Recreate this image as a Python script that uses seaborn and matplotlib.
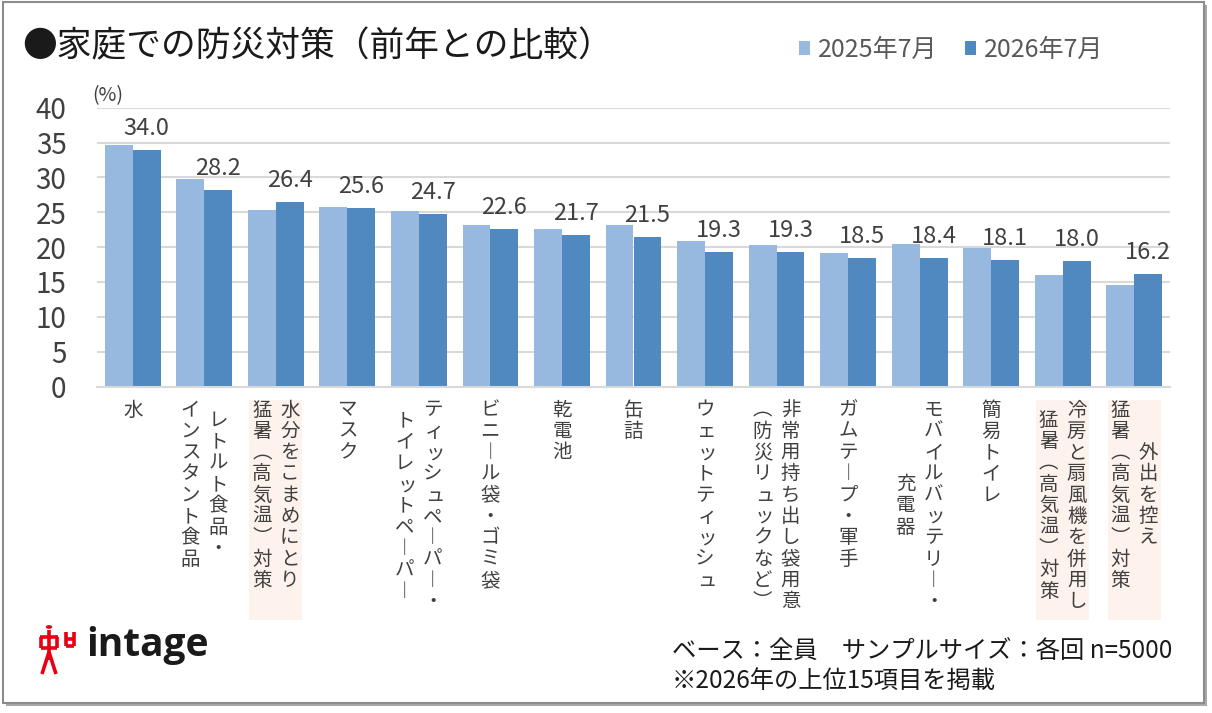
import numpy as np
import pandas as pd
import matplotlib
matplotlib.use("Agg")
import matplotlib.pyplot as plt
import matplotlib.patches as mpatches
import matplotlib.lines as mlines
import matplotlib.transforms as mtransforms
import seaborn as sns

# ---------------- data ----------------
categories = [
    "水",
    "レトルト食品・\nインスタント食品",
    "水分をこまめにとり\n猛暑（高気温）対策",
    "マスク",
    "ティッシュペーパー・\nトイレットペーパー",
    "ビニール袋・ゴミ袋",
    "乾電池",
    "缶詰",
    "ウェットティッシュ",
    "非常用持ち出し袋用意\n（防災リュックなど）",
    "ガムテープ・軍手",
    "モバイルバッテリー・\n充電器",
    "簡易トイレ",
    "冷房と扇風機を併用し\n猛暑（高気温）対策",
    "外出を控え\n猛暑（高気温）対策",
]
highlighted = [False, False, True, False, False, False, False, False,
               False, False, False, False, False, True, True]
values_2025 = [34.6, 29.7, 25.3, 25.7, 25.2, 23.2, 22.6, 23.1,
               20.9, 20.3, 19.2, 20.5, 19.9, 16.0, 14.5]
values_2026 = [34.0, 28.2, 26.4, 25.6, 24.7, 22.6, 21.7, 21.5,
               19.3, 19.3, 18.5, 18.4, 18.1, 18.0, 16.2]
series = ["2025年7月", "2026年7月"]
y_ticks = [0, 5, 10, 15, 20, 25, 30, 35, 40]

title = "●家庭での防災対策（前年との比較）"
unit = "(%)"
note1 = "ベース：全員　サンプルサイズ：各回 n=5000"
note2 = "※2026年の上位15項目を掲載"

LIGHT = "#97b9e0"
DARK = "#4f89bf"
TXT = "#404040"

df = pd.DataFrame({
    "item": categories * 2,
    "value": values_2025 + values_2026,
    "period": [series[0]] * len(categories) + [series[1]] * len(categories),
})

sns.set_theme(style="white")
plt.rcParams["font.family"] = ["Noto Sans CJK JP", "DejaVu Sans"]

W, H = 1212, 713
fig = plt.figure(figsize=(W / 100, H / 100), dpi=100)
fig.patch.set_facecolor("white")

ax_l, ax_r, ax_b, ax_t = 97, 1170, 386.5, 107.7
ax = fig.add_axes([ax_l / W, (H - ax_b) / H, (ax_r - ax_l) / W, (ax_b - ax_t) / H])
ax.set_zorder(1)
ax.patch.set_alpha(0)

sns.barplot(data=df, x="item", y="value", hue="period", order=categories,
            hue_order=series, palette=[LIGHT, DARK], saturation=1,
            width=0.78, ax=ax, legend=False, edgecolor="none")

ax.set_xlim(-0.5, len(categories) - 0.5)
ax.set_ylim(0, 40)
ax.set_yticks(y_ticks)
ax.set_yticklabels([str(t) for t in y_ticks], fontsize=20, color=TXT)
ax.tick_params(axis="y", length=0, pad=22)
ax.tick_params(axis="x", length=0)
ax.set_xticklabels([])
ax.set_xlabel("")
ax.set_ylabel("")
ax.yaxis.grid(True, color="#d9d9d9", linewidth=1.5)
ax.set_axisbelow(True)
for s in ["left", "right", "top"]:
    ax.spines[s].set_visible(False)
ax.spines["bottom"].set_color("#d9d9d9")
ax.spines["bottom"].set_linewidth(1.5)

# value labels on 2026 bars
for bar, v in zip(ax.containers[1], values_2026):
    ax.annotate(f"{v:.1f}", xy=(bar.get_x() + bar.get_width() / 2, bar.get_height()),
                xytext=(0, 15), textcoords="offset pixels", ha="center",
                va="baseline", fontsize=17, color=TXT, annotation_clip=False)

# vertical (tategaki) category labels
VERT = {"ー": "︱", "（": "︵", "）": "︶"}
SMALL = set("ッィュェャョァゥォ")
pitch = 21.3
colgap = 28
top = 13
axh = ax_b - ax_t
blend = mtransforms.blended_transform_factory(ax.transData, ax.transAxes)
for i, cat in enumerate(categories):
    if highlighted[i]:
        rect = mpatches.Rectangle((i - 0.37, -233 / axh), 0.74, 220 / axh,
                                  transform=blend, facecolor="#fdf2ec",
                                  edgecolor="none", clip_on=False, zorder=0.5)
        ax.add_patch(rect)
    cols = cat.split("\n")
    N = max(len(c) for c in cols)
    ncol = len(cols)
    for j, col in enumerate(cols):
        dx = ((ncol - 1) / 2 - j) * colgap
        off = (N - len(col)) / 2 * pitch
        for k, ch in enumerate(col):
            sx = 2 if ch in SMALL else 0
            ax.annotate(VERT.get(ch, ch), xy=(i, 0), xycoords=("data", "axes fraction"),
                        xytext=(dx + sx, -(top + off + k * pitch)),
                        textcoords="offset pixels", ha="center", va="top",
                        fontsize=14, color=TXT, annotation_clip=False)

ax.set_xlim(-0.5, len(categories) - 0.5)
ax.set_ylim(0, 40)

# title, unit
fig.text(22 / W, 1 - 47 / H, title, fontsize=25, color="#1a1a1a", va="center", ha="left")
fig.text(92 / W, 1 - 96 / H, unit, fontsize=14, color=TXT, va="center", ha="left")

# legend
handles = [mpatches.Patch(facecolor=LIGHT, edgecolor="none"),
           mpatches.Patch(facecolor=DARK, edgecolor="none")]
fig.legend(handles, series, loc="center", bbox_to_anchor=(951 / W, 1 - 50 / H),
           ncol=2, frameon=False, fontsize=18, handlelength=0.45, handleheight=0.45,
           handletextpad=0.3, columnspacing=1.1, labelcolor="#595959")

# notes
fig.text(672 / W, 1 - 652 / H, note1, fontsize=17.5, color="#1a1a1a", va="center", ha="left")
fig.text(672 / W, 1 - 681 / H, note2, fontsize=17.5, color="#1a1a1a", va="center", ha="left")

# logo
RED = "#e60012"
def fl(x0, y0, x1, y1, lw=2.6):
    fig.lines.append(mlines.Line2D([x0 / W, x1 / W], [1 - y0 / H, 1 - y1 / H],
                                   transform=fig.transFigure, color=RED, lw=lw,
                                   solid_capstyle="butt"))
fig.patches.append(mpatches.Circle((49 / W, 1 - 627 / H), 3.2 / W, transform=fig.transFigure,
                                   facecolor=RED, edgecolor="none"))
fl(49, 630, 49, 660)
fl(40, 637, 58, 637)
fl(41, 637, 41, 648)
fl(57, 637, 57, 648)
fl(41, 648, 57, 648)
fl(49, 652, 42, 674)
fl(49, 652, 56, 674)
fl(66, 632, 66, 646)
fl(74, 632, 74, 646)
fl(66, 646, 74, 646)
fl(66, 639, 74, 639)
fig.text(86 / W, 1 - 656 / H, "intage", fontsize=28, family=["Open Sans", "DejaVu Sans"],
         fontweight="bold", color="#1a1a1a", va="baseline", ha="left")

# frame with shadow
fig.patches.append(mpatches.Rectangle((6 / W, (H - 706) / H), 1201 / W, 701 / H,
                                      transform=fig.transFigure, facecolor="#a8a8a8",
                                      edgecolor="none", zorder=-3))
fig.patches.append(mpatches.Rectangle((3 / W, (H - 703) / H), 1201 / W, 701 / H,
                                      transform=fig.transFigure, facecolor="white",
                                      edgecolor="#8c8c8c", lw=1.5, zorder=-2))

fig.savefig("out.png", dpi=100, facecolor="white")
